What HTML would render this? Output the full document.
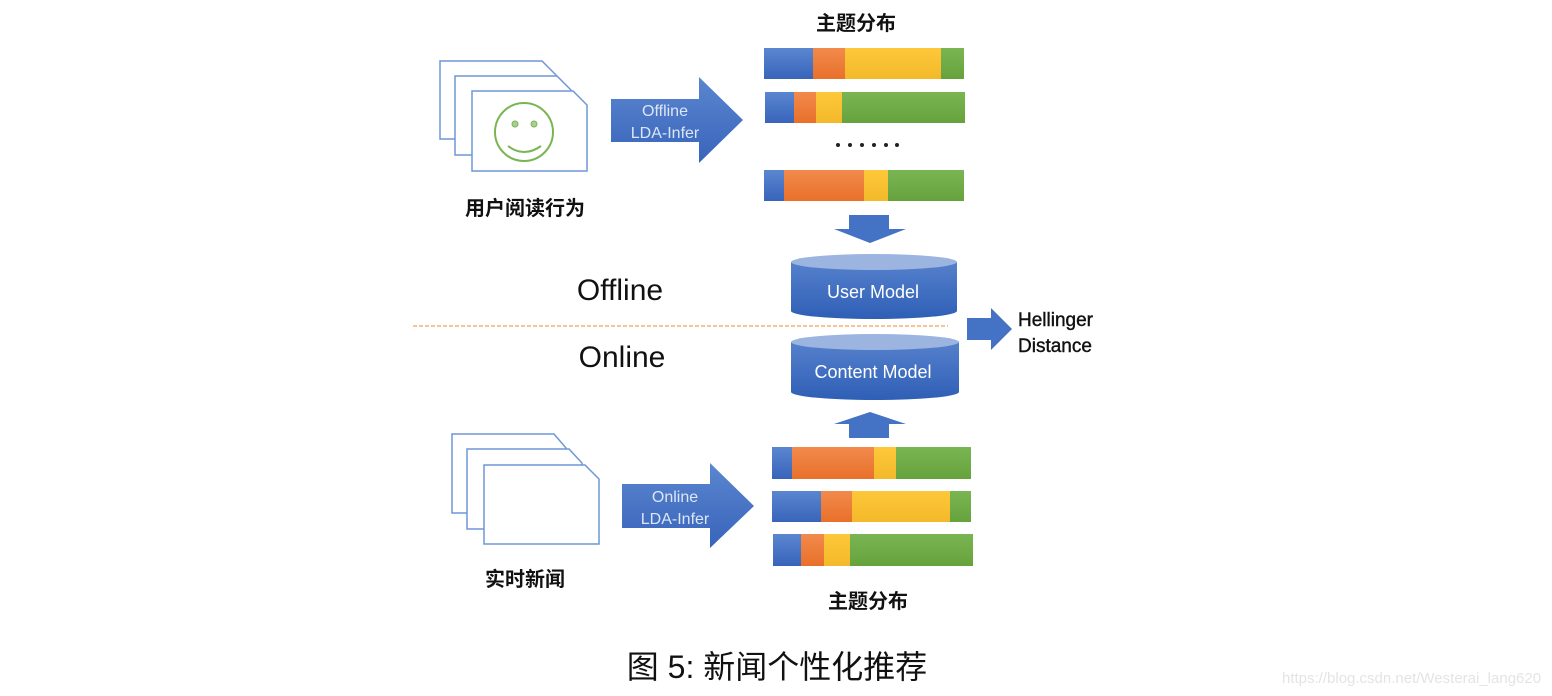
<!DOCTYPE html>
<html><head><meta charset="utf-8"><style>
html,body{margin:0;padding:0;background:#fff;}
svg{display:block;}
</style></head><body>
<svg width="1552" height="696" viewBox="0 0 1552 696" xmlns="http://www.w3.org/2000/svg">
<defs>
<linearGradient id="bl" x1="0" y1="0" x2="0" y2="1"><stop offset="0" stop-color="#5b86cf"/><stop offset="1" stop-color="#3864bb"/></linearGradient>
<linearGradient id="or" x1="0" y1="0" x2="0" y2="1"><stop offset="0" stop-color="#f28a4c"/><stop offset="1" stop-color="#e8702a"/></linearGradient>
<linearGradient id="ye" x1="0" y1="0" x2="0" y2="1"><stop offset="0" stop-color="#fdc83a"/><stop offset="1" stop-color="#f3b92a"/></linearGradient>
<linearGradient id="gr" x1="0" y1="0" x2="0" y2="1"><stop offset="0" stop-color="#7ab553"/><stop offset="1" stop-color="#66a23c"/></linearGradient>
<linearGradient id="cy" x1="0" y1="0" x2="0" y2="1"><stop offset="0" stop-color="#5580cc"/><stop offset="1" stop-color="#2f5fb6"/></linearGradient>
</defs>
<g fill="#fff" stroke="#6f95d8" stroke-width="1.5">
<path d="M440,61 H542 L556,75 V139 H440 Z"/>
<path d="M455,76 H557 L571,90 V155 H455 Z"/>
<path d="M472,91 H573 L587,105 V171 H472 Z"/>
<path d="M452,434 H554 L566,448 V513 H452 Z"/>
<path d="M467,449 H569 L582,463 V529 H467 Z"/>
<path d="M484,465 H585 L599,479 V544 H484 Z"/>
</g>
<circle cx="524" cy="132" r="29" fill="none" stroke="#7ab553" stroke-width="2"/>
<circle cx="515" cy="124" r="3" fill="#a9cf92" stroke="#7ab553"/>
<circle cx="534" cy="124" r="3" fill="#a9cf92" stroke="#7ab553"/>
<path d="M508,146 Q524,158 541,146" fill="none" stroke="#7ab553" stroke-width="2"/>
<polygon points="611,99 699,99 699,77 743,120 699,163 699,142 611,142" fill="url(#bl)"/>
<polygon points="622,484 710,484 710,463 754,506 710,548 710,528 622,528" fill="url(#bl)"/>
<g font-family="Liberation Sans, DejaVu Sans, sans-serif" font-size="16" fill="#dce6f5" text-anchor="middle">
<text x="665" y="116">Offline</text><text x="665" y="138">LDA-Infer</text>
<text x="675" y="502">Online</text><text x="675" y="524">LDA-Infer</text>
</g>
<g>
<rect x="764" y="48" width="49" height="31" fill="url(#bl)"/><rect x="813" y="48" width="32" height="31" fill="url(#or)"/><rect x="845" y="48" width="96" height="31" fill="url(#ye)"/><rect x="941" y="48" width="23" height="31" fill="url(#gr)"/>
<rect x="765" y="92" width="29" height="31" fill="url(#bl)"/><rect x="794" y="92" width="22" height="31" fill="url(#or)"/><rect x="816" y="92" width="26" height="31" fill="url(#ye)"/><rect x="842" y="92" width="123" height="31" fill="url(#gr)"/>
<rect x="764" y="170" width="20" height="31" fill="url(#bl)"/><rect x="784" y="170" width="80" height="31" fill="url(#or)"/><rect x="864" y="170" width="24" height="31" fill="url(#ye)"/><rect x="888" y="170" width="76" height="31" fill="url(#gr)"/>
<rect x="772" y="447" width="20" height="32" fill="url(#bl)"/><rect x="792" y="447" width="82" height="32" fill="url(#or)"/><rect x="874" y="447" width="22" height="32" fill="url(#ye)"/><rect x="896" y="447" width="75" height="32" fill="url(#gr)"/>
<rect x="772" y="491" width="49" height="31" fill="url(#bl)"/><rect x="821" y="491" width="31" height="31" fill="url(#or)"/><rect x="852" y="491" width="98" height="31" fill="url(#ye)"/><rect x="950" y="491" width="21" height="31" fill="url(#gr)"/>
<rect x="773" y="534" width="28" height="32" fill="url(#bl)"/><rect x="801" y="534" width="23" height="32" fill="url(#or)"/><rect x="824" y="534" width="26" height="32" fill="url(#ye)"/><rect x="850" y="534" width="123" height="32" fill="url(#gr)"/>
</g>
<g fill="#222"><circle cx="838" cy="145" r="2"/><circle cx="850" cy="145" r="2"/><circle cx="862" cy="145" r="2"/><circle cx="874" cy="145" r="2"/><circle cx="886" cy="145" r="2"/><circle cx="897" cy="145" r="2"/></g>
<polygon points="849,215 889,215 889,229 906,229 870,243 834,229 849,229" fill="#4472c4"/>
<polygon points="849,438 889,438 889,424 906,424 870,412 834,424 849,424" fill="#4472c4"/>
<path d="M791,262 V311 A83,8 0 0 0 957,311 V262 Z" fill="url(#cy)"/>
<ellipse cx="874" cy="262" rx="83" ry="8" fill="#9cb4e0"/>
<path d="M791,342 V392 A84,8 0 0 0 959,392 V342 Z" fill="url(#cy)"/>
<ellipse cx="875" cy="342" rx="84" ry="8" fill="#9cb4e0"/>
<g font-family="Liberation Sans, DejaVu Sans, sans-serif" font-size="18" fill="#fff" text-anchor="middle">
<text x="873" y="298">User Model</text><text x="873" y="378">Content Model</text>
</g>
<line x1="413" y1="326" x2="948" y2="326" stroke="#f4a05a" stroke-width="1.3" stroke-dasharray="4,2"/>
<polygon points="967,318 991,318 991,308 1012,329 991,350 991,340 967,340" fill="#4472c4"/>
<g font-family="Liberation Sans, DejaVu Sans, sans-serif" fill="#111">
<text x="1018" y="326" font-size="19" stroke="#111" stroke-width="0.4">Hellinger</text>
<text x="1018" y="352" font-size="19" stroke="#111" stroke-width="0.4">Distance</text>
<text x="620" y="300" font-size="30" text-anchor="middle">Offline</text>
<text x="622" y="367" font-size="30" text-anchor="middle">Online</text>
</g>
<g font-family="Liberation Sans, Noto Sans CJK SC, sans-serif" font-weight="bold" font-size="20" fill="#111" text-anchor="middle">
<text x="856" y="30">主题分布</text>
<text x="525" y="215">用户阅读行为</text>
<text x="525" y="586">实时新闻</text>
<text x="868" y="608">主题分布</text>
</g>
<text x="777" y="678" font-family="Liberation Sans, Noto Sans CJK SC, sans-serif" font-size="32" fill="#111" text-anchor="middle">图 5: 新闻个性化推荐</text>
<text x="1282" y="683" font-family="Liberation Sans, sans-serif" font-size="15" fill="#e4e4e4">https://blog.csdn.net/Westerai_lang620</text>
</svg>
</body></html>
